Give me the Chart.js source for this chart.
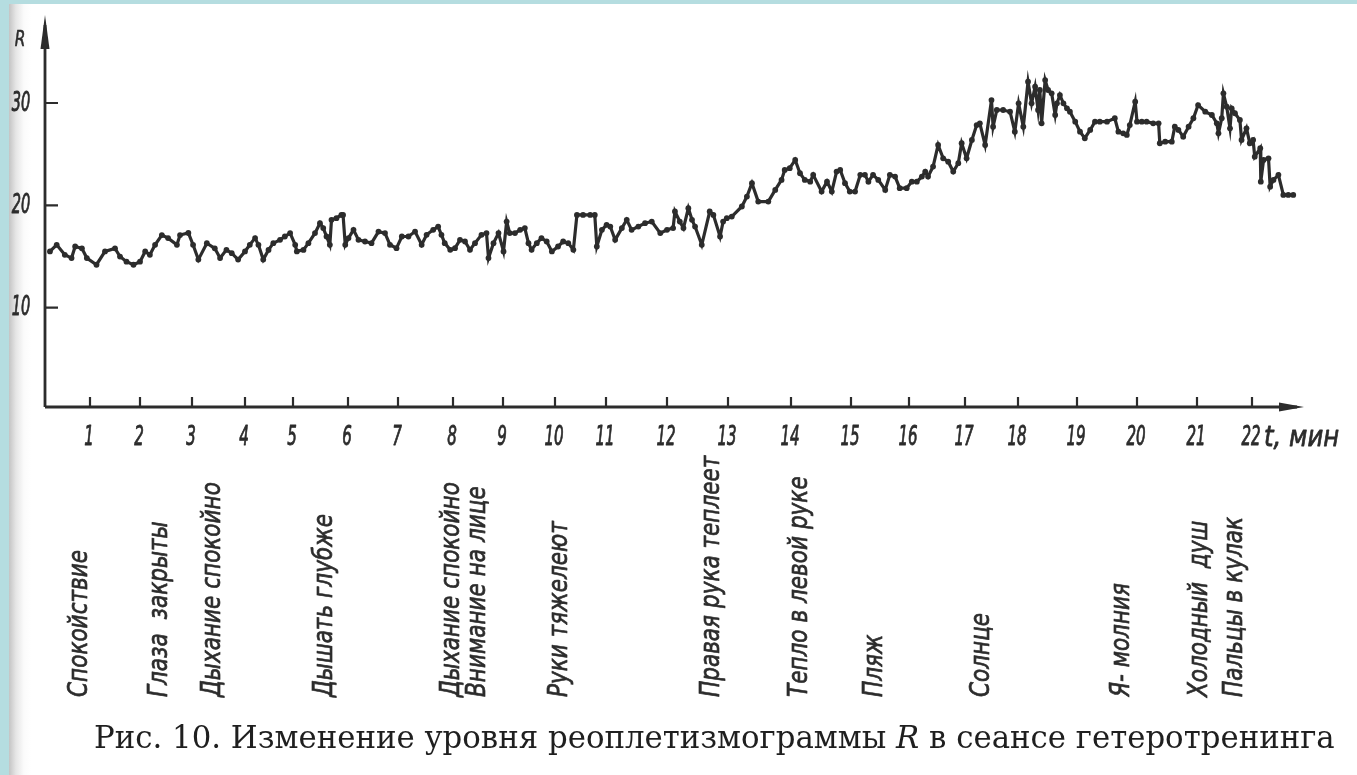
<!DOCTYPE html>
<html lang="ru">
<head>
<meta charset="UTF-8" />
<title>Рис. 10. Реоплетизмограмма</title>
<script src="https://cdn.jsdelivr.net/npm/chart.js"></script>
<style>
  html, body { margin: 0; padding: 0; }
  body { width: 1357px; height: 775px; background: #b5dde0; position: relative; overflow: hidden; }
  #page { position: absolute; left: 9px; top: 4px; right: 0; bottom: 0;
          background: linear-gradient(to right, #c4c4c4 0, #e6e6e6 7px, #fbfbfb 15px, #fff 22px); }
  #chart { position: absolute; left: 0; top: 0; }
  #caption { position: absolute; left: 94px; top: 719px; white-space: nowrap;
             font-family: "DejaVu Serif", "Liberation Serif", serif; font-size: 30.8px; color: #1f1f1f; }
</style>
</head>
<body>
<div id="page"></div>
<canvas id="chart" width="1357" height="775"></canvas>
<div id="caption">Рис. 10. Изменение уровня реоплетизмограммы <i>R</i> в сеансе гетеротренинга</div>

<script>
// время, мин
const tValues = [
  0.11, 0.26, 0.44, 0.59, 0.67, 0.82, 0.93, 1.13, 1.30, 1.50, 1.60, 1.73, 1.87, 2.00,
  2.10, 2.19, 2.29, 2.42, 2.54, 2.71, 2.77, 2.93, 3.02, 3.12, 3.28, 3.43, 3.53, 3.65,
  3.75, 3.87, 4.00, 4.10, 4.21, 4.28, 4.38, 4.49, 4.59, 4.73, 4.83, 4.94, 5.04, 5.07,
  5.19, 5.28, 5.40, 5.49, 5.55, 5.61, 5.67, 5.70, 5.79, 5.88, 5.91, 5.95, 6.01, 6.11,
  6.21, 6.34, 6.47, 6.61, 6.74, 6.84, 6.97, 7.07, 7.19, 7.31,
  7.43, 7.52, 7.64, 7.73, 7.79, 7.85, 7.95, 8.04, 8.14, 8.24, 8.34, 8.44, 8.57, 8.67,
  8.71, 8.81, 8.91, 9.01, 9.07, 9.13, 9.23, 9.33, 9.42, 9.49, 9.55, 9.65, 9.74, 9.84,
  9.94, 10.06, 10.16, 10.26, 10.36, 10.43, 10.55, 10.69, 10.78,
  10.82, 10.92, 11.01, 11.07, 11.15, 11.26, 11.34, 11.42, 11.53, 11.64, 11.75, 11.89,
  12.00, 12.10, 12.13, 12.21, 12.27, 12.35, 12.41, 12.46, 12.57, 12.70, 12.76, 12.87,
  12.92, 12.98, 13.06, 13.22, 13.30, 13.38, 13.48, 13.64, 13.75, 13.85,
  13.90, 13.98, 14.07, 14.15, 14.23, 14.32, 14.37, 14.51, 14.60, 14.68, 14.76, 14.82,
  14.90, 14.98, 15.07, 15.16, 15.24, 15.30, 15.38, 15.47, 15.59, 15.67, 15.76, 15.84,
  15.96, 16.05, 16.14, 16.23, 16.29, 16.34, 16.43, 16.52, 16.61, 16.70, 16.79, 16.88,
  16.94, 17.03, 17.13, 17.22, 17.28, 17.38, 17.50, 17.53, 17.60, 17.72, 17.85, 17.94,
  18.01, 18.09, 18.17, 18.23, 18.29, 18.34, 18.37, 18.40, 18.46, 18.51, 18.57, 18.63,
  18.66, 18.71, 18.77, 18.83, 18.88, 18.97, 19.05, 19.13, 19.22, 19.30, 19.38, 19.50,
  19.63, 19.69, 19.77, 19.83, 19.88, 19.97, 20.00, 20.08,
  20.16, 20.27, 20.36, 20.38, 20.47, 20.58, 20.63, 20.69, 20.77, 20.86, 20.94, 21.02,
  21.15, 21.27, 21.36, 21.39, 21.45, 21.48, 21.54, 21.60, 21.63, 21.69, 21.78, 21.81,
  21.90, 21.96, 22.02, 22.05, 22.15, 22.16, 22.21, 22.30, 22.33, 22.39, 22.48, 22.57,
  22.66, 22.75
];

// уровень реоплетизмограммы R
const rValues = [
  15.5, 16.15, 15.17, 14.85, 15.98, 15.8, 14.85, 14.2, 15.5, 15.8, 15.0, 14.5, 14.2, 14.5,
  15.5, 15.17, 16.15, 17.1, 16.8, 16.15, 17.1, 17.3, 16.15, 14.7, 16.3, 15.8, 14.85, 15.65,
  15.33, 14.7, 15.5, 16.15, 16.8, 16.15, 14.7, 15.65, 16.31, 16.63, 16.96, 17.29, 16.15, 15.5,
  15.65, 16.31, 17.29, 18.26, 17.78, 16.96, 16.15, 18.59, 18.75, 19.07, 19.07, 16.15, 16.8, 17.61,
  16.63, 16.47, 16.31, 17.44, 17.29, 16.15, 15.82, 16.96, 16.96, 17.44,
  16.15, 17.12, 17.61, 17.93, 17.12, 16.31, 15.66, 15.82, 16.63, 16.47, 15.66, 16.31, 17.12, 17.29,
  14.85, 16.31, 17.29, 15.5, 18.42, 17.29, 17.29, 17.61, 17.78, 16.31, 15.66, 16.31, 16.8, 16.47,
  15.5, 15.98, 16.47, 16.31, 15.66, 19.07, 19.07, 19.07, 19.07,
  15.98, 17.61, 18.1, 17.93, 16.63, 17.78, 18.59, 17.61, 17.93, 18.26, 18.42, 17.29,
  17.61, 17.78, 19.4, 18.42, 17.78, 19.73, 18.59, 17.93, 16.15, 19.4, 19.07, 16.96,
  18.42, 18.75, 18.91, 19.89, 20.86, 22.17, 20.37, 20.37, 21.51, 22.49,
  23.46, 23.63, 24.44, 23.14, 22.49, 22.32, 22.98, 21.35, 22.32, 21.35, 23.3, 23.46,
  22.17, 21.35, 21.35, 22.98, 22.98, 22.32, 22.98, 22.49, 21.51, 22.98, 22.81, 21.68,
  21.68, 22.32, 22.32, 22.81, 23.3, 22.81, 23.79, 25.9, 24.6, 24.27, 23.3, 24.12,
  26.07, 24.6, 26.39, 27.85, 28.02, 25.9, 30.29, 27.69, 29.32, 29.32, 29.15, 27.2,
  29.97, 27.69, 32.08, 29.97, 31.59, 29.32, 31.27, 28.02, 32.24, 31.27, 30.95, 28.83,
  29.97, 30.78, 29.97, 29.48, 29.15, 28.18, 27.2, 26.56, 27.37, 28.18, 28.18, 28.18,
  28.51, 27.2, 27.04, 26.88, 27.85, 30.13, 28.18, 28.18,
  28.18, 28.02, 28.02, 26.07, 26.22, 26.22, 27.69, 27.37, 26.71, 27.69, 28.51, 29.8,
  29.15, 28.83, 28.02, 27.04, 28.51, 30.95, 29.64, 27.53, 29.48, 29.0, 28.34, 26.39,
  27.53, 26.07, 26.39, 24.76, 25.58, 22.32, 24.44, 24.6, 21.83, 22.49, 22.98, 21.02,
  21.02, 21.02
];

// подписи делений
const tTicks = [1, 2, 3, 4, 5, 6, 7, 8, 9, 10, 11, 12, 13, 14, 15, 16, 17, 18, 19, 20, 21, 22];
const rTicks = [10, 20, 30];

// формулы аутотренинга и моменты их подачи, мин
const phrases = [
  "Спокойствие", "Глаза  закрыты", "Дыхание спокойно", "Дышать глубже",
  "Дыхание спокойно", "Внимание на лице", "Руки тяжелеют", "Правая рука теплеет",
  "Тепло в левой руке", "Пляж", "Солнце", "Я- молния", "Холодный  душ", "Пальцы в кулак"
];
const phraseTimes = [0.78, 2.38, 3.40, 5.58, 7.98, 8.50, 10.10, 12.74, 14.15, 15.41, 17.32, 19.75, 21.05, 21.69];

// ось времени на рисунке начерчена неравномерно: длины минутных отрезков
class WarpScale extends Chart.LinearScale {
  static id = "warp";
  static defaults = Chart.LinearScale.defaults;
  _cum() {
    const g = this.options.gaps;
    const c = [0];
    g.forEach((w, i) => c.push(c[i] + w));
    return c;
  }
  _warp(v) {
    const c = this._cum(), g = this.options.gaps, n = g.length;
    const i = Math.max(0, Math.min(n - 1, Math.floor(v)));
    return (c[i] + (v - i) * g[i]) / c[n];
  }
  getPixelForValue(value) {
    if (value === null || isNaN(value)) return NaN;
    return this.getPixelForDecimal(this._warp(value));
  }
  getValueForPixel(pixel) {
    const c = this._cum(), g = this.options.gaps, n = g.length;
    const d = this.getDecimalForPixel(pixel) * c[n];
    let i = 0;
    while (i < n - 1 && c[i + 1] < d) i++;
    return i + (d - c[i]) / g[i];
  }
}
Chart.register(WarpScale);

const ink = "#2c2c2c";
const drawFont = '"DejaVu Sans", "Liberation Sans", sans-serif';

// надписи чертёжным узким курсивом
function label(ctx, s, x, y, size, squeeze, align, rotate, heavy) {
  ctx.save();
  ctx.translate(x, y);
  if (rotate) ctx.rotate(-Math.PI / 2);
  ctx.scale(squeeze, 1);
  ctx.font = "italic " + size + "px " + drawFont;
  ctx.textAlign = align;
  ctx.textBaseline = "middle";
  ctx.fillStyle = ink;
  ctx.strokeStyle = ink;
  ctx.lineWidth = heavy;
  ctx.lineJoin = "round";
  ctx.fillText(s, 0, 0);
  if (heavy) ctx.strokeText(s, 0, 0);
  ctx.restore();
}

const axesPlugin = {
  id: "axes",
  beforeDatasetsDraw(chart) {
    const ctx = chart.ctx;
    const xs = chart.scales.x, ys = chart.scales.y;
    const a = chart.chartArea;
    const x0 = a.left, y0 = a.bottom;
    ctx.save();
    ctx.strokeStyle = ink;
    ctx.fillStyle = ink;
    ctx.lineWidth = 2.8;
    ctx.lineCap = "butt";

    // оси
    ctx.beginPath();
    ctx.moveTo(x0, y0);
    ctx.lineTo(x0, a.top + 10);
    ctx.moveTo(x0, y0);
    ctx.lineTo(a.right - 10, y0);
    ctx.stroke();
    // стрелки
    ctx.beginPath();
    ctx.moveTo(x0, a.top);
    ctx.lineTo(x0 + 4.5, a.top + 34);
    ctx.lineTo(x0 - 4.5, a.top + 34);
    ctx.closePath();
    ctx.fill();
    ctx.beginPath();
    ctx.moveTo(a.right - 3, y0);
    ctx.lineTo(a.right - 28, y0 - 4.5);
    ctx.lineTo(a.right - 28, y0 + 4.5);
    ctx.closePath();
    ctx.fill();

    // деления
    ctx.lineWidth = 2.2;
    ctx.beginPath();
    rTicks.forEach(v => {
      const y = ys.getPixelForValue(v);
      ctx.moveTo(x0, y);
      ctx.lineTo(x0 + 13, y);
    });
    tTicks.forEach(v => {
      const x = xs.getPixelForValue(v);
      ctx.moveTo(x, y0);
      ctx.lineTo(x, y0 - 10);
    });
    ctx.stroke();
    ctx.restore();

    rTicks.forEach(v => label(ctx, String(v), x0 - 24, ys.getPixelForValue(v) + 1, 26, 0.56, "center", false, 0.9));
    tTicks.forEach(v => label(ctx, String(v), xs.getPixelForValue(v) - 1, y0 + 31, 26, 0.58, "center", false, 0.9));
    label(ctx, "R", x0 - 25, a.top + 25, 22, 0.7, "center", false, 0.6);
    label(ctx, "t, мин", xs.getPixelForValue(22) + 12, y0 + 31, 29, 0.84, "left", false, 0.8);

    phrases.forEach((p, i) => {
      label(ctx, p, xs.getPixelForValue(phraseTimes[i]), y0 + 290, 26, 0.83, "left", true, 0.7);
    });
  }
};

new Chart(document.getElementById("chart"), {
  type: "line",
  data: {
    datasets: [{
      data: tValues.map((t, i) => ({ x: t, y: rValues[i] })),
      borderColor: ink,
      borderWidth: 3.2,
      pointRadius: 2.9,
      pointBackgroundColor: ink,
      pointBorderWidth: 0,
      tension: 0
    }]
  },
  options: {
    responsive: false,
    animation: false,
    events: [],
    layout: { padding: { left: 45, top: 15, right: 50, bottom: 368 } },
    plugins: { legend: { display: false }, tooltip: { enabled: false } },
    scales: {
      x: {
        type: "warp", min: 0, max: 23, display: false,
        gaps: [45, 50, 52, 53, 48, 55, 50, 55, 50, 52, 51, 61, 61, 63, 60, 58, 56, 53, 59, 60, 60, 55, 55]
      },
      y: { type: "linear", min: 0.3, max: 38.6, display: false }
    }
  },
  plugins: [axesPlugin]
});
</script>
</body>
</html>
